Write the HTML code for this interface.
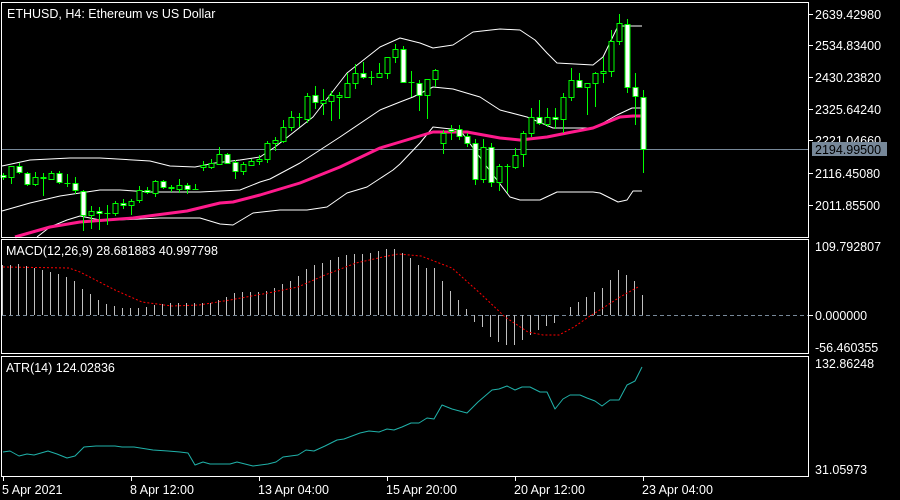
<!DOCTYPE html>
<html><head><meta charset="utf-8"><style>
html,body{margin:0;padding:0;background:#000;width:900px;height:500px;overflow:hidden}
svg{display:block}
text{font-family:"Liberation Sans",sans-serif;font-size:12.5px;fill:#fff}
</style></head><body>
<svg id="s" width="900" height="500" viewBox="0 0 900 500" xmlns="http://www.w3.org/2000/svg">
<rect width="900" height="500" fill="#000"/>
<g id="g"></g>
<!-- panels -->
<rect x="1.5" y="2.5" width="807" height="235" fill="none" stroke="#fff"/>
<rect x="1.5" y="239.5" width="807" height="114" fill="none" stroke="#fff"/>
<rect x="1.5" y="356.5" width="807" height="120" fill="none" stroke="#fff"/>
<text x="7" y="18">ETHUSD, H4:  Ethereum vs US Dollar</text>
<text x="6" y="255">MACD(12,26,9) 28.681883 40.997798</text>
<text x="6" y="372">ATR(14) 124.02836</text>
<g id="ax"></g>
</svg>
<script>
var NS="http://www.w3.org/2000/svg",g=document.getElementById('g'),ax=document.getElementById('ax');
function el(p,t,a,tx){var e=document.createElementNS(NS,t);for(var k in a)e.setAttribute(k,a[k]);if(tx)e.textContent=tx;p.appendChild(e);return e;}
// gray price line
el(g,'line',{x1:2,y1:149.5,x2:809,y2:149.5,stroke:'#778899','stroke-width':1});
// MACD zero line
el(g,'line',{x1:2,y1:315.5,x2:809,y2:315.5,stroke:'#778899','stroke-width':1,'stroke-dasharray':'4,3'});
function pl(pts,c,w,da){var a={points:pts,fill:'none',stroke:c,'stroke-width':w,'stroke-linejoin':'round'};if(da)a['stroke-dasharray']=da;el(g,'polyline',a);}
// Bollinger upper
pl("2,166 30,160 70,158 100,158 150,161 170,166 195,167 215,163 240,160 260,157 275,147 313,117 347,73 380,47 400,38 420,43 433,48 453,45 473,32 500,29 520,30 535,40 547,53 557,63 593,65 603,57 618,26 642,26","#fff",1);
// middle
pl("2,211 30,203 60,196 100,190 120,190 150,192 200,192 240,190 260,182 270,179 300,163 340,137 380,110 400,102 413,97 433,87 453,89 480,97 500,110 527,117 553,128 593,128 603,123 617,115 632,108 642,108","#fff",1);
// lower
pl("37,237 50,227 67,220 80,216 100,220 117,220 140,219 160,218 200,218 220,224 233,225 253,213 280,210 307,210 327,207 347,193 367,187 393,170 400,164 420,143 433,127 460,130 487,167 510,197 520,200 540,200 557,192 593,192 600,193 618,202 627,200 633,191 642,191","#fff",1);
// SMA pink
pl("15,237 50,227 80,222 133,218 187,211 220,203 233,202 260,195 300,183 340,167 380,148 400,142 433,132 467,132 500,138 520,140 547,137 567,133 593,128 620,117 633,116 642,116","#ff1a8c",3);
// candles [high, bodyTop, bodyBottom, low, type]
var C=[[173,175,177,180,0],[166,166,177,184,1],[163,166,172,174,0],[172,173,184,186,0],[172,177,184,186,1],[173,177,178,196,0],[171,173,179,180,1],[171,173,182,184,0],[174,183,183,187,2],[177,183,190,194,0],
[190,191,215,231,0],[206,211,215,229,1],[207,211,213,230,0],[205,213,213,225,2],[201,203,213,216,1],[199,203,205,209,0],[199,201,205,215,1],[186,190,200,203,1],[187,190,192,194,0],[180,181,193,197,1],
[180,181,187,189,0],[185,187,188,192,0],[179,185,189,193,1],[183,185,189,194,0],[184,189,189,189,2],[161,165,167,171,1],[159,163,167,169,1],[147,154,164,165,1],[153,154,163,164,0],[160,162,171,179,0],
[162,164,171,175,1],[159,161,165,165,1],[155,159,161,165,1],[141,143,159,163,1],[137,140,143,151,1],[120,127,141,143,1],[111,117,127,131,1],[113,117,117,127,2],[93,96,119,123,1],[86,95,102,109,0],
[89,100,103,115,1],[91,95,101,121,1],[92,95,97,119,1],[73,83,97,97,1],[64,73,83,89,1],[62,73,77,79,0],[71,77,77,85,2],[63,73,77,77,1],[57,57,73,79,1],[44,49,57,63,1],
[46,49,82,83,0],[71,82,82,97,2],[80,83,95,111,0],[79,79,95,119,1],[69,70,79,87,1],[130,133,143,154,1],[125,129,131,140,0],[125,129,136,140,0],[133,136,143,147,0],[139,143,179,185,0],
[139,147,179,183,1],[143,147,182,187,0],[164,166,182,191,1],[164,166,166,193,2],[148,155,167,169,1],[131,133,154,167,1],[108,117,133,137,1],[100,117,123,125,0],[108,117,124,127,1],[108,117,119,129,0],
[93,97,119,133,1],[68,80,97,101,1],[73,80,87,88,0],[83,83,87,115,1],[72,73,83,107,1],[57,71,73,83,1],[30,41,71,77,1],[14,23,41,45,1],[19,24,87,93,0],[73,87,96,125,0],[90,97,149,173,0]];
var G='#00ff00';
C.forEach(function(c,i){var x=3+8*i+0.5;
 el(g,'line',{x1:x,y1:c[0],x2:x,y2:c[3],stroke:G,'stroke-width':1});
 if(c[4]==2||c[2]-c[1]<1){el(g,'line',{x1:x-3,y1:c[1]+0.5,x2:x+3,y2:c[1]+0.5,stroke:G,'stroke-width':1});}
 else el(g,'rect',{x:x-2.5,y:c[1]+0.5,width:5,height:c[2]-c[1],fill:c[4]==0?'#fff':'#000',stroke:G,'stroke-width':1});
});
// MACD histogram
var H=[265,265,264,266,268,270,272,274,277,281,289,294,300,304,306,308,308,308,307,305,304,303,303,303,303,303,303,300,297,293,292,292,292,291,288,284,281,276,269,265,263,260,257,255,254,254,253,251,249,249,253,258,265,268,268,281,291,300,309,322,327,337,342,345,345,340,335,330,326,323,315,307,302,297,292,288,280,270,275,281,295];
H.forEach(function(y,i){var x=2+8*i+0.5;if(Math.abs(y-315)>0.5)el(g,'line',{x1:x,y1:315,x2:x,y2:y,stroke:'#c0c0c0','stroke-width':1});});
// signal
pl("3,267 69,268 80,272 115,290 142,302 172,306 199,305 230,300 268,293 298,287 325,275 356,263 383,257 398,254 421,256 452,268 482,295 505,317 528,332 543,335 559,335 574,327 590,316 603,308 620,297 638,287","#ff0000",1,"2,2");
// ATR
pl("3,452 10,451 19,456 27,454 34,455 48,451 57,454 67,458 75,456 84,447 96,446 115,446 122,447 134,447 153,450 168,451 180,452 188,453 195,465 203,462 210,464 230,464 237,462 245,464 253,466 268,464 276,462 283,457 298,455 306,450 314,451 325,446 337,440 344,439 360,433 369,431 379,432 387,429 394,430 402,427 411,423 419,423 427,418 434,419 442,405 452,409 467,413 478,402 492,390 499,389 507,386 515,390 522,387 530,387 540,392 547,392 555,409 563,399 570,395 580,395 587,398 595,401 602,406 610,400 619,400 627,385 635,381 642,367","#20b2aa",1);
// right axis labels
var R=[[14,'2639.42980',1],[45,'2534.83400',1],[77,'2430.23820',1],[109,'2325.64240',1],[140,'2221.04660',1],[173,'2116.45080',1],[205,'2011.85500',1],[246,'109.792807',0],[315,'0.000000',1],[347,'-56.460355',0],[363,'132.86248',0],[469,'31.05973',0]];
R.forEach(function(r){if(r[2])el(ax,'line',{x1:809,y1:r[0]+0.5,x2:813,y2:r[0]+0.5,stroke:'#fff'});el(ax,'text',{x:815,y:r[0]+5},r[1]);});
el(ax,'rect',{x:812,y:142,width:75,height:14,fill:'#778899'});
el(ax,'text',{x:815,y:154,style:'fill:#000'},'2194.99500');
// bottom labels
var B=[[3,'5 Apr 2021'],[131,'8 Apr 12:00'],[259,'13 Apr 04:00'],[387,'15 Apr 20:00'],[515,'20 Apr 12:00'],[643,'23 Apr 04:00']];
B.forEach(function(b){el(ax,'line',{x1:b[0]+0.5,y1:476,x2:b[0]+0.5,y2:481,stroke:'#fff'});el(ax,'text',{x:b[0]-1,y:494},b[1]);});
</script>
</body></html>
